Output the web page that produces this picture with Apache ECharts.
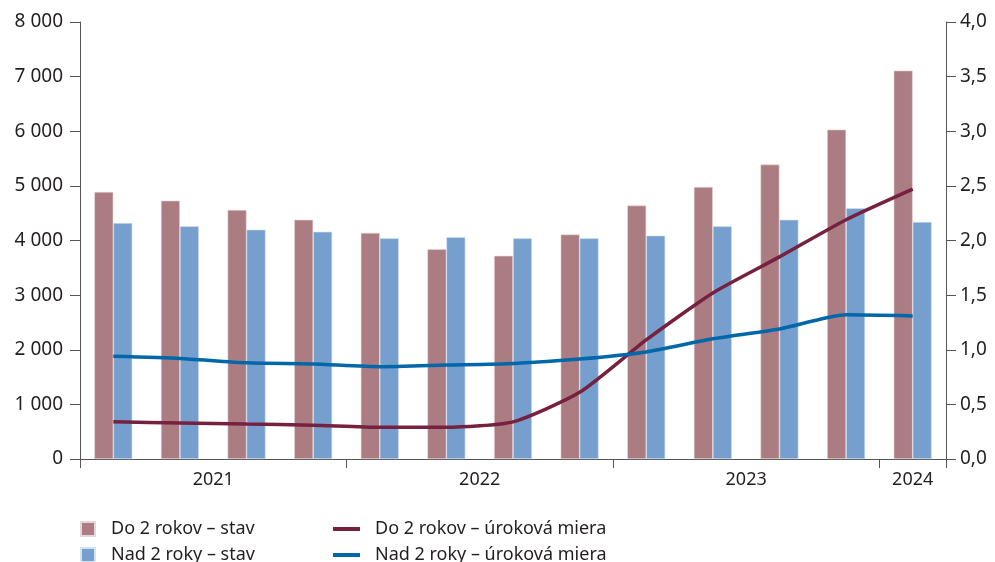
<!DOCTYPE html>
<html>
<head>
<meta charset="utf-8">
<script src="https://cdn.jsdelivr.net/npm/echarts@6/dist/echarts.min.js"></script>
<style>html,body{margin:0;padding:0;background:#fff}#c{width:995px;height:562px}</style>
</head>
<body>
<div id="c"></div>
<script>
var quarters = ['2021 Q1','2021 Q2','2021 Q3','2021 Q4','2022 Q1','2022 Q2','2022 Q3','2022 Q4','2023 Q1','2023 Q2','2023 Q3','2023 Q4','2024 Q1'];
var do2Stav  = [4890, 4730, 4560, 4380, 4140, 3840, 3720, 4110, 4640, 4980, 5390, 6030, 7110];
var nad2Stav = [4320, 4260, 4200, 4160, 4040, 4060, 4040, 4040, 4090, 4260, 4380, 4590, 4340];
var do2Rate  = [0.34, 0.33, 0.32, 0.31, 0.29, 0.29, 0.34, 0.61, 1.09, 1.52, 1.85, 2.19, 2.47];
var nad2Rate = [0.94, 0.92, 0.88, 0.87, 0.845, 0.86, 0.875, 0.915, 0.98, 1.10, 1.19, 1.32, 1.31];
var leftTicks = [0, 1000, 2000, 3000, 4000, 5000, 6000, 7000, 8000];
var rightTicks = [0, 0.5, 1, 1.5, 2, 2.5, 3, 3.5, 4];
var names = ['Do 2 rokov – stav', 'Nad 2 roky – stav', 'Do 2 rokov – úroková miera', 'Nad 2 roky – úroková miera'];

// derive year groups from quarter categories
var years = [], yearStart = {}, yearCount = {};
quarters.forEach(function (q, i) {
  var y = q.split(' ')[0];
  if (!(y in yearStart)) { years.push(y); yearStart[y] = i; yearCount[y] = 0; }
  yearCount[y]++;
});
var tickPos = [0], labelPos = [], labelMap = {};
years.forEach(function (y) {
  tickPos.push(yearStart[y] + yearCount[y]);
  var c = yearStart[y] + yearCount[y] / 2;
  labelPos.push(c); labelMap[c] = y;
});

var FONT = 'Noto Sans';
var TXT = '#231f20';
var AX = '#555555';
var FS = 18;
var FSY = 19;

function leg(name, left, top, isLine) {
  return { data: [name], left: left, top: top, padding: 0,
    itemWidth: isLine ? 27 : 14, itemHeight: isLine ? 4 : 14, icon: 'rect',
    textStyle: { fontFamily: FONT, fontSize: FS, color: TXT, lineHeight: 18, padding: [0, 0, 0, isLine ? 10 : 11] } };
}

var chart = echarts.init(document.getElementById('c'));
chart.setOption({
  animation: false,
  textStyle: { fontFamily: FONT },
  grid: { left: 80, right: 49, top: 22, bottom: 103, containLabel: false },
  legend: [
    leg(names[0], 80, 520, false),
    leg(names[1], 80, 546, false),
    leg(names[2], 333, 520, true),
    leg(names[3], 333, 546, true)
  ],
  xAxis: [
    { type: 'category', data: quarters, boundaryGap: true,
      axisLine: { show: false }, axisTick: { show: false }, axisLabel: { show: false } },
    { type: 'value', min: 0, max: quarters.length, position: 'bottom',
      splitLine: { show: false },
      axisLine: { show: true, onZero: false, lineStyle: { color: AX, width: 1 } },
      axisTick: { show: true, length: 9, customValues: tickPos, lineStyle: { color: AX } },
      axisLabel: { show: true, customValues: labelPos, margin: 12, fontSize: FS, color: TXT, fontFamily: FONT,
        formatter: function (v) { return labelMap[v] || ''; } } }
  ],
  yAxis: [
    { type: 'value', min: leftTicks[0], max: leftTicks[leftTicks.length - 1], interval: leftTicks[1] - leftTicks[0],
      position: 'left', splitLine: { show: false },
      axisLine: { show: true, lineStyle: { color: AX } },
      axisTick: { show: true, length: 10, lineStyle: { color: AX } },
      axisLabel: { fontSize: FSY, color: TXT, margin: 17, fontFamily: FONT,
        formatter: function (v) { return String(v).replace(/\B(?=(\d{3})+(?!\d))/g, ' '); } } },
    { type: 'value', min: rightTicks[0], max: rightTicks[rightTicks.length - 1], interval: rightTicks[1] - rightTicks[0],
      position: 'right', splitLine: { show: false },
      axisLine: { show: true, lineStyle: { color: AX } },
      axisTick: { show: true, length: 10, lineStyle: { color: AX } },
      axisLabel: { fontSize: FSY, color: TXT, margin: 14, fontFamily: FONT,
        formatter: function (v) { return v.toFixed(1).replace('.', ','); } } }
  ],
  series: [
    { name: names[0], type: 'bar', xAxisIndex: 0, yAxisIndex: 0, data: do2Stav, barGap: '0%', barCategoryGap: '43%',
      itemStyle: { color: '#ab7c81', borderColor: '#e6d6d8', borderWidth: 0.6 } },
    { name: names[1], type: 'bar', xAxisIndex: 0, yAxisIndex: 0, data: nad2Stav, barGap: '0%', barCategoryGap: '43%',
      itemStyle: { color: '#779fcd', borderColor: '#d4e2f2', borderWidth: 0.6 } },
    { name: names[2], type: 'line', xAxisIndex: 0, yAxisIndex: 1, data: do2Rate, smooth: 0.2, symbol: 'none',
      itemStyle: { color: '#76213f' }, lineStyle: { color: '#76213f', width: 3.5 } },
    { name: names[3], type: 'line', xAxisIndex: 0, yAxisIndex: 1, data: nad2Rate, smooth: 0.2, symbol: 'none',
      itemStyle: { color: '#0068a9' }, lineStyle: { color: '#0068a9', width: 3.5 } }
  ]
});
</script>
</body>
</html>
